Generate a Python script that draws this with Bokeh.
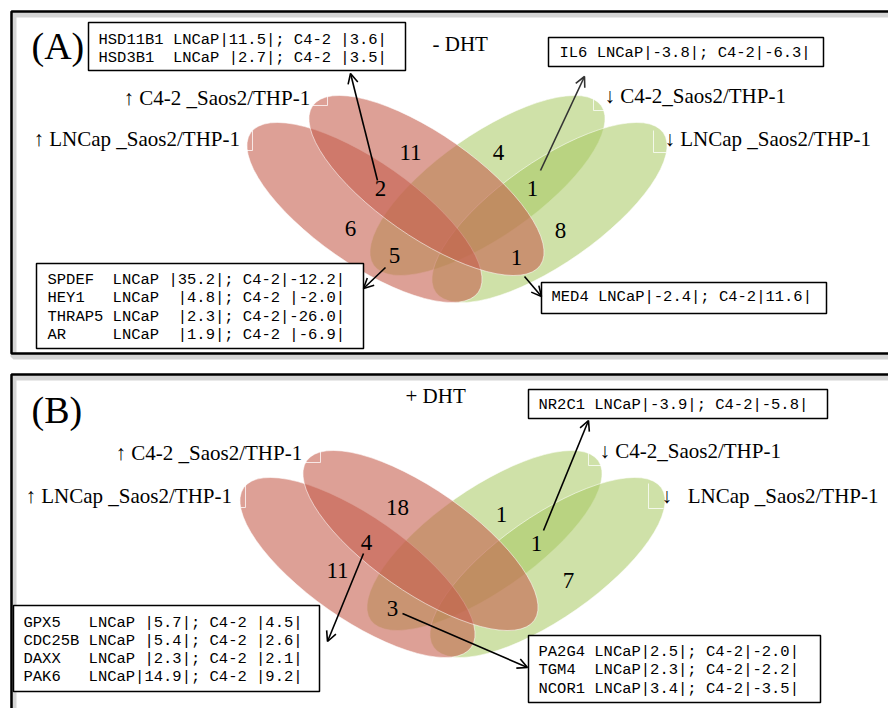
import numpy as np
from bokeh.plotting import figure
from bokeh.models import Range1d, Arrow, OpenHead
from bokeh.embed import file_html
from bokeh.resources import INLINE
from bokeh.core.properties import value

# ---------------- data ----------------
set_labels = ["↑ LNCap _Saos2/THP-1", "↑ C4-2 _Saos2/THP-1",
              "↓ C4-2_Saos2/THP-1", "↓ LNCap _Saos2/THP-1"]
set_labels_b = ["↑ LNCap _Saos2/THP-1", "↑ C4-2 _Saos2/THP-1",
                "↓ C4-2_Saos2/THP-1", "↓   LNCap _Saos2/THP-1"]
panel_titles = ["(A)", "(B)"]
conditions = ["- DHT", "+ DHT"]

# Venn region counts (A=↑LNCap, B=↑C4-2, C=↓C4-2, D=↓LNCap)
regions_minus = ["B", "C", "AB", "CD", "A", "D", "AC", "BD"]
counts_minus = [11, 4, 2, 1, 6, 8, 5, 1]
regions_plus = ["B", "C", "AB", "CD", "A", "D", "AC"]
counts_plus = [18, 1, 4, 1, 11, 7, 3]

# gene annotation tables
hsd_rows = ["HSD11B1 LNCaP|11.5|; C4-2 |3.6|",
            "HSD3B1  LNCaP |2.7|; C4-2 |3.5|"]
il6_rows = ["IL6 LNCaP|-3.8|; C4-2|-6.3|"]
spdef_rows = ["SPDEF  LNCaP |35.2|; C4-2|-12.2|",
              "HEY1   LNCaP  |4.8|; C4-2 |-2.0|",
              "THRAP5 LNCaP  |2.3|; C4-2|-26.0|",
              "AR     LNCaP  |1.9|; C4-2 |-6.9|"]
med4_rows = ["MED4 LNCaP|-2.4|; C4-2|11.6|"]
nr2c1_rows = ["NR2C1 LNCaP|-3.9|; C4-2|-5.8|"]
gpx5_rows = ["GPX5   LNCaP |5.7|; C4-2 |4.5|",
             "CDC25B LNCaP |5.4|; C4-2 |2.6|",
             "DAXX   LNCaP |2.3|; C4-2 |2.1|",
             "PAK6   LNCaP|14.9|; C4-2 |9.2|"]
pa2g4_rows = ["PA2G4 LNCaP|2.5|; C4-2|-2.0|",
              "TGM4  LNCaP|2.3|; C4-2|-2.2|",
              "NCOR1 LNCaP|3.4|; C4-2|-3.5|"]

# ---------------- layout (page pixel coordinates) ----------------
PW, PH = 888, 708

def Y(py):
    return PH - py

def keep_spaces(s):
    return s.replace(" ", "\u00a0")

p = figure(width=PW, height=PH, x_range=Range1d(0, PW), y_range=Range1d(0, PH),
           x_axis_type=None, y_axis_type=None, toolbar_location=None,
           output_backend="svg", min_border=0, outline_line_color=None)
p.grid.visible = False
p.background_fill_color = "white"
p.border_fill_color = "white"

SERIF = value("Liberation Serif, DejaVu Serif")
MONO = value("Liberation Mono")

def frame(xs, ys):
    p.line([x + 2 for x in xs], [Y(y + 3) for y in ys], line_color="#888888",
           line_width=6, line_alpha=0.35)
    p.line(xs, [Y(y) for y in ys], line_color="black", line_width=2.5)

frame([900, 11, 11, 900], [11, 11, 353, 353])
frame([900, 11, 11], [374, 374, 720])

# Venn ellipses
RED, GREEN = "#C55E4D", "#A7C961"
EA, EB = 278, 102
ANG = np.deg2rad(35)

def venn(centers, labels, label_pos, counts, count_pos, corners):
    (ax, ay), (bx, by), (cx, cy), (dx, dy) = centers
    # greens first, reds on top
    p.ellipse(x=[cx, dx], y=[Y(cy), Y(dy)], width=EA, height=EB, angle=ANG,
              fill_color=GREEN, fill_alpha=0.55, line_color="white", line_alpha=0.7, line_width=0.8)
    p.ellipse(x=[ax, bx], y=[Y(ay), Y(by)], width=EA, height=EB, angle=-ANG,
              fill_color=RED, fill_alpha=0.59, line_color="white", line_alpha=0.7, line_width=0.8)
    # faint corner marks at the ellipse tips
    for (x0, x1, y0, y1) in corners:
        p.line([x0, x1, x1], [Y(y1), Y(y1), Y(y0)], line_color="white", line_alpha=0.75,
               line_width=1)
    for lab, (lx, ly) in zip(labels, label_pos):
        p.text(x=[lx], y=[Y(ly)], text=[keep_spaces(lab)], text_font=SERIF, text_font_size="21px",
               text_baseline="middle", text_align="left", text_color="black")
    for c, (tx, ty) in zip(counts, count_pos):
        p.text(x=[tx], y=[Y(ty)], text=[str(c)], text_font=SERIF, text_font_size="23px",
               text_baseline="middle", text_align="center", text_color="black")

venn([(364, 212), (426, 185), (487, 185), (549, 212)], set_labels,
     [(33, 138), (123, 97), (604, 95), (664, 138)], counts_minus,
     [(410, 152), (498, 152), (380, 188), (532, 188), (350, 228), (560, 230), (394, 255), (516, 257)],
     [(246, 252, 130, 150), (310, 327, 93, 105), (606, 593, 93, 110), (666, 653, 130, 152)])
venn([(357, 567), (420, 540), (484, 540), (547, 567)], set_labels_b,
     [(25, 495), (115, 452), (599, 450), (661, 495)], counts_plus,
     [(397, 507), (501, 514), (366, 542), (536, 543), (337, 570), (568, 580), (392, 608)],
     [(240, 245, 480, 507), (302, 320, 450, 462), (602, 588, 453, 465), (663, 648, 483, 508)])

# titles
p.text(x=[31, 31], y=[Y(45), Y(409)], text=panel_titles, text_font=SERIF, text_font_size="38px",
       text_baseline="middle", text_align="left")
p.text(x=[432, 405], y=[Y(43), Y(395)], text=conditions, text_font=SERIF, text_font_size="21px",
       text_baseline="middle", text_align="left")

# annotation boxes
def box(x0, y0, x1, y1, rows, tx, ty0, dy=18.5):
    p.quad(left=x0, right=x1, top=Y(y0), bottom=Y(y1), fill_color="white",
           line_color="black", line_width=1.5)
    p.text(x=[tx] * len(rows), y=[Y(ty0 + i * dy) for i in range(len(rows))],
           text=[keep_spaces(r) for r in rows],
           text_font=MONO, text_font_size="15.5px", text_baseline="middle",
           text_align="left", text_color="black")

box(88, 22, 405, 70, hsd_rows, 98, 39)
box(548, 37, 823, 66, il6_rows, 559, 52)
box(36, 263, 363, 348, spdef_rows, 47, 279, 18.5)
box(541, 282, 826, 313, med4_rows, 551, 296)
box(528, 389, 827, 418, nr2c1_rows, 538, 404)
box(13, 605, 319, 691, gpx5_rows, 23, 622, 18.3)
box(528, 635, 820, 702, pa2g4_rows, 538, 651, 18.5)

# arrows
arrows = [((377, 180), (350, 73), "black"),
          ((540, 170), (584, 76), "#333333"),
          ((385, 267), (363, 288), "black"),
          ((524, 276), (541, 296), "black"),
          ((363, 553), (327, 641), "black"),
          ((543, 530), (588, 420), "black"),
          ((402, 613), (527, 667), "black")]
for (xs, ys), (xe, ye), col in arrows:
    p.add_layout(Arrow(end=OpenHead(size=10, line_width=1.6, line_color=col),
                       x_start=xs, y_start=Y(ys), x_end=xe, y_end=Y(ye),
                       line_width=1.6, line_color=col))

open("out.html", "w").write(file_html(p, INLINE))
